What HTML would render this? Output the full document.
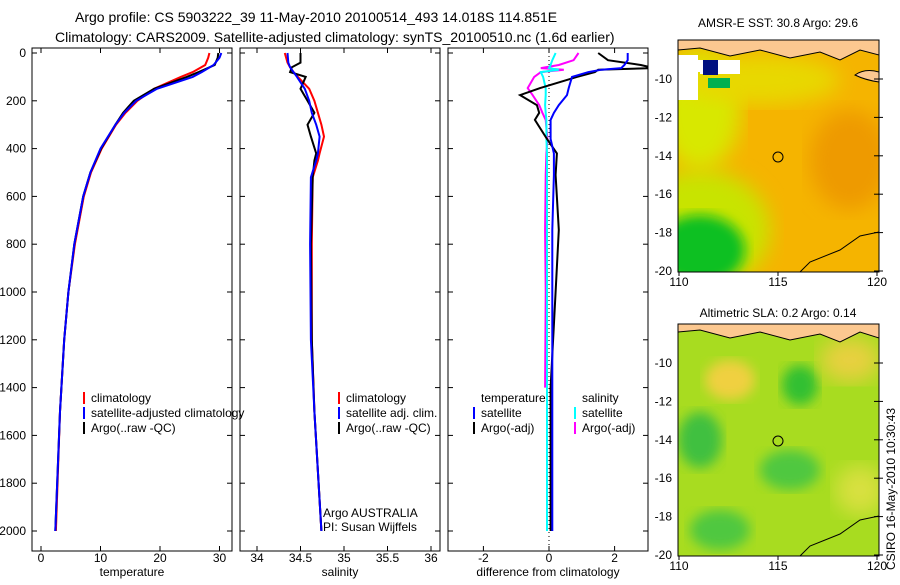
<!DOCTYPE html>
<html><head><meta charset="utf-8">
<style>
body{margin:0;background:#fff;width:900px;height:580px;overflow:hidden;font-family:"Liberation Sans",sans-serif;}
svg text{font-family:"Liberation Sans",sans-serif;fill:#000}
</style></head>
<body>
<svg id="fig" width="900" height="580" xmlns="http://www.w3.org/2000/svg">
<defs>
<filter id="blur6"><feGaussianBlur stdDeviation="6"/></filter>
<filter id="blur10"><feGaussianBlur stdDeviation="10"/></filter>
<clipPath id="c1"><rect x="32" y="48" width="200" height="503"/></clipPath>
<clipPath id="c2"><rect x="240" y="48" width="200" height="503"/></clipPath>
<clipPath id="c3"><rect x="448" y="48" width="200" height="503"/></clipPath>
<clipPath id="m1"><rect x="678" y="40" width="201" height="232"/></clipPath>
<clipPath id="m2"><rect x="678" y="324" width="201" height="232"/></clipPath>
</defs>
<text x="75" y="22" font-size="14">Argo profile: CS 5903222_39 11-May-2010 20100514_493 14.018S 114.851E</text>
<text x="55" y="42" font-size="14">Climatology: CARS2009. Satellite-adjusted climatology: synTS_20100510.nc (1.6d earlier)</text>

<g>
<text x="778" y="27" font-size="12" text-anchor="middle">AMSR-E SST: 30.8 Argo: 29.6</text>
<g clip-path="url(#m1)">
<rect x="678" y="40" width="201" height="232" fill="#f5b400"/>
<ellipse cx="700" cy="230" rx="70" ry="60" fill="#c8e400" filter="url(#blur10)"/>
<ellipse cx="700" cy="250" rx="45" ry="35" fill="#10c020" filter="url(#blur6)"/>
<ellipse cx="700" cy="110" rx="40" ry="60" fill="#d8e800" filter="url(#blur10)"/>
<ellipse cx="760" cy="80" rx="80" ry="25" fill="#e8d800" filter="url(#blur10)"/>
<ellipse cx="850" cy="160" rx="40" ry="50" fill="#ee9a00" filter="url(#blur10)"/>
<rect x="678" y="55" width="20" height="45" fill="#fff"/>
<rect x="690" y="60" width="50" height="12" fill="#fff"/>
<rect x="700" y="66" width="40" height="8" fill="#fff"/>
<rect x="703" y="60" width="15" height="15" fill="#001080"/>
<rect x="708" y="78" width="22" height="10" fill="#00b050"/>
<path d="M678,40 L879,40 L879,55 L860,50 L840,60 L820,52 L790,58 L760,50 L730,56 L700,48 L678,50Z" fill="#fcc890" stroke="#000" stroke-width="1"/>
<path d="M855,75 Q865,68 879,72 L879,82 Q865,80 855,75Z" fill="#fcc890" stroke="#000"/>
<path d="M800,272 L810,262 L840,250 L860,236 L879,232" fill="none" stroke="#000"/>
</g>
<rect x="678" y="40" width="201" height="232" fill="none" stroke="#000"/>
<circle cx="778" cy="157" r="5" fill="none" stroke="#000"/>
</g>

<g>
<text x="778" y="317" font-size="12" text-anchor="middle">Altimetric SLA: 0.2 Argo: 0.14</text>
<g clip-path="url(#m2)">
<rect x="678" y="324" width="201" height="232" fill="#a8dc20"/>
<ellipse cx="730" cy="380" rx="25" ry="20" fill="#f0d040" filter="url(#blur6)"/>
<ellipse cx="800" cy="385" rx="18" ry="20" fill="#30c030" filter="url(#blur6)"/>
<ellipse cx="850" cy="360" rx="30" ry="22" fill="#e8d040" filter="url(#blur10)"/>
<ellipse cx="700" cy="440" rx="22" ry="28" fill="#40c040" filter="url(#blur6)"/>
<ellipse cx="790" cy="470" rx="30" ry="20" fill="#50c840" filter="url(#blur6)"/>
<ellipse cx="860" cy="490" rx="25" ry="25" fill="#d8e040" filter="url(#blur10)"/>
<ellipse cx="720" cy="530" rx="30" ry="20" fill="#50c840" filter="url(#blur6)"/>
<path d="M678,324 L879,324 L879,338 L860,332 L840,342 L820,334 L790,340 L760,332 L730,338 L700,330 L678,332Z" fill="#fcc890" stroke="#000"/>
<path d="M800,556 L810,546 L840,534 L860,520 L879,516" fill="none" stroke="#000"/>
</g>
<rect x="678" y="324" width="201" height="232" fill="none" stroke="#000"/>
<circle cx="778" cy="441" r="5" fill="none" stroke="#000"/>
</g>
<text transform="translate(895,570) rotate(-90)" font-size="12">CSIRO 16-May-2010 10:30:43</text>
</svg>
<script>
// ---- data ----
const tempDepths=[0,20,50,80,100,150,200,250,300,400,500,600,800,1000,1200,1500,2000];
const tempClim=[28.3,28.1,27.6,25.5,23.5,19,16.2,14.2,12.6,10.2,8.4,7.2,5.7,4.6,3.9,3.2,2.5];
const tempSat=[30.3,30,29,27,25.5,19.5,16,14,12.5,10,8.3,7.1,5.6,4.6,3.9,3.2,2.4];
const tempArgo=[29.8,29.7,29.2,26.5,24.5,19,15.6,13.8,12.5,10.1,8.3,7.1,5.6,4.6,3.9,3.2,2.4];
const salDepths=[0,40,60,80,100,150,200,250,300,350,420,450,520,800,1200,1500,2000];
const salClim=[34.32,34.35,34.38,34.42,34.47,34.6,34.66,34.7,34.74,34.77,34.72,34.7,34.64,34.63,34.63,34.66,34.74];
const salSat=[34.35,34.36,34.38,34.42,34.46,34.55,34.6,34.63,34.68,34.72,34.7,34.68,34.62,34.61,34.62,34.66,34.74];
const salArgo=[34.5,34.5,34.4,34.38,34.56,34.5,34.58,34.66,34.58,34.62,34.68,34.66,34.64,34.62,34.63,34.66,34.74];
const dDepths=[0,30,50,63,70,80,100,147,176,218,250,280,360,420,510,740,1000,1400,2000];
const dTempSat=[2.4,2.4,2.3,2.2,1.6,1.2,0.7,0.6,0.55,0.3,0.15,0.05,0.05,0.15,0.15,0.1,0.1,0.1,0.1];
const dTempArgo=[1.5,1.8,2.8,3.2,1.5,1.4,0.85,-0.27,-0.88,-0.37,-0.3,-0.43,-0.06,0.24,0.2,0.3,0.2,0.05,0.05];
const dSalSat=[0.2,0.1,0.05,0.0,0.3,-0.25,-0.18,-0.1,-0.1,-0.12,-0.1,-0.08,-0.08,-0.06,-0.06,-0.06,-0.06,-0.06,-0.06];
const dSalArgo=[0.9,0.75,0.3,-0.25,0.45,-0.25,-0.45,-0.65,-0.5,-0.3,-0.2,-0.1,-0.05,-0.08,-0.1,-0.12,-0.1,-0.12,null];
const depthTicks=[0,200,400,600,800,1000,1200,1400,1600,1800,2000];
const tTicks=[0,10,20,30], sTicks=[34,34.5,35,35.5,36], dTicks=[-2,0,2];
const latTicks=[-10,-12,-14,-16,-18,-20], lonTicks=[110,115,120];

const svg=document.getElementById('fig');
const NS='http://www.w3.org/2000/svg';
function mk(tag,attrs,parent){const e=document.createElementNS(NS,tag);for(const k in attrs)e.setAttribute(k,attrs[k]);(parent||svg).appendChild(e);return e;}
const yD=d=>53+0.239*d;
const panels=[
 {x0:32,name:'temperature',sx:v=>41+5.95*v,ticks:tTicks,label:'temperature',clip:'c1'},
 {x0:240,name:'salinity',sx:v=>257+87*(v-34),ticks:sTicks,label:'salinity',clip:'c2'},
 {x0:448,name:'difference',sx:v=>549+32.8*v,ticks:dTicks,label:'difference from climatology',clip:'c3'}];
panels.forEach(p=>{
 const g=mk('g',{});
 
 
 mk('rect',{x:p.x0,y:48,width:200,height:503,fill:'none',stroke:'#000'},g);
 p.ticks.forEach(t=>{const x=p.sx(t);
  mk('line',{x1:x,x2:x,y1:551,y2:546,stroke:'#000'},g);mk('line',{x1:x,x2:x,y1:48,y2:53,stroke:'#000'},g);
  const tx=mk('text',{x:x,y:562,'font-size':12,'text-anchor':'middle'},g);tx.textContent=t;
  
  });
 depthTicks.forEach(d=>{const y=yD(d);
  mk('line',{x1:p.x0,x2:p.x0+5,y1:y,y2:y,stroke:'#000'},g);mk('line',{x1:p.x0+200,x2:p.x0+195,y1:y,y2:y,stroke:'#000'},g);});
 const xl=mk('text',{x:p.x0+100,y:576,'font-size':12,'text-anchor':'middle'},g);xl.textContent=p.label;
 
 
 p.g=g;
});
depthTicks.forEach(d=>{const t=mk('text',{x:26,y:yD(d)+4,'font-size':12,'text-anchor':'end'});t.textContent=d;
 
 });
function line(p,depths,vals,color,name,w,dash){
 let d='';let pen=false;
 vals.forEach((v,i)=>{if(v===null){pen=false;return;}d+=(pen?'L':'M')+p.sx(v).toFixed(1)+','+yD(depths[i]).toFixed(1);pen=true;});
 const e=mk('path',{d:d,fill:'none',stroke:color,'stroke-width':w||2,'clip-path':'url(#'+p.clip+')'},p.g);
 if(dash)e.setAttribute('stroke-dasharray',dash);
 
 
}
const [P1,P2,P3]=panels;
line(P1,tempDepths,tempClim,'#f00','temp-climatology-line');
line(P1,tempDepths,tempArgo,'#000','temp-argo-line');
line(P1,tempDepths,tempSat,'#00f','temp-satellite-line');
line(P2,salDepths,salClim,'#f00','sal-climatology-line');
line(P2,salDepths,salArgo,'#000','sal-argo-line');
line(P2,salDepths,salSat,'#00f','sal-satellite-line');
mk('line',{x1:549,x2:549,y1:48,y2:551,stroke:'#000','stroke-dasharray':'1,3'},P3.g);
line(P3,dDepths,dSalArgo,'#f0f','diff-sal-argo-line');
line(P3,dDepths,dSalSat,'#0ff','diff-sal-satellite-line');
line(P3,dDepths,dTempArgo,'#000','diff-temp-argo-line');
line(P3,dDepths,dTempSat,'#00f','diff-temp-satellite-line');

function legend(x,y,items,name){
 const g=mk('g',{});
 
 
 items.forEach((it,i)=>{const yy=y+i*15;
  if(it[1])mk('line',{x1:x,x2:x,y1:yy-10,y2:yy+2,stroke:it[1],'stroke-width':2},g);
  const t=mk('text',{x:x+7,y:yy,'font-size':12},g);t.textContent=it[0];
  
  });
}
legend(84,402,[['climatology','#f00'],['satellite-adjusted climatology','#00f'],['Argo(..raw -QC)','#000']],'temp-legend');
legend(339,402,[['climatology','#f00'],['satellite adj. clim.','#00f'],['Argo(..raw -QC)','#000']],'sal-legend');
legend(474,402,[['temperature',null],['satellite','#00f'],['Argo(-adj)','#000']],'diff-temp-legend');
legend(575,402,[['salinity',null],['satellite','#0ff'],['Argo(-adj)','#f0f']],'diff-sal-legend');
const a1=mk('text',{x:323,y:517,'font-size':12});a1.textContent='Argo AUSTRALIA';

const a2=mk('text',{x:323,y:531,'font-size':12});a2.textContent='PI: Susan Wijffels';


// map axes
[[40,79],[324,363]].forEach(([top,y10])=>{
 latTicks.forEach(l=>{const y=y10+19.2*(-10-l);
  mk('line',{x1:874,x2:879,y1:y,y2:y,stroke:'#000'});mk('line',{x1:878,x2:883,y1:y,y2:y,stroke:'#000'});
  const t=mk('text',{x:672,y:y+4,'font-size':12,'text-anchor':'end'});t.textContent=l;
  });
 lonTicks.forEach(l=>{const x=679+19.8*(l-110);
  mk('line',{x1:x,x2:x,y1:top+232,y2:top+236,stroke:'#000'});
  const t=mk('text',{x:x,y:top+246,'font-size':12,'text-anchor':'middle'});t.textContent=l;
  });
});
</script>
</body></html>
